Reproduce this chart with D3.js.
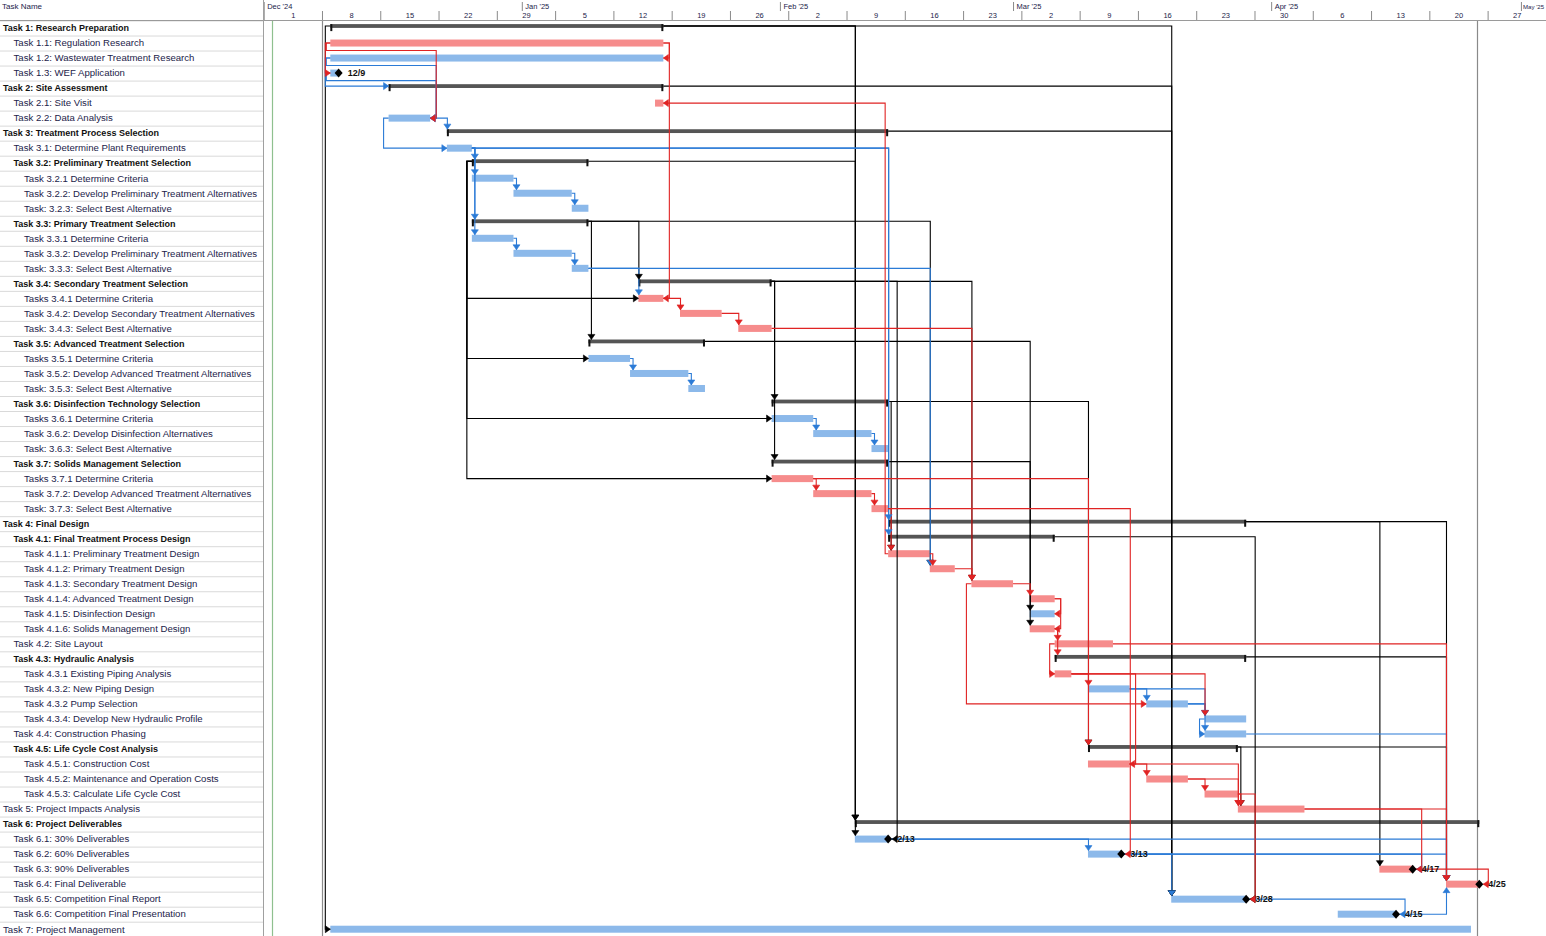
<!DOCTYPE html>
<html><head><meta charset="utf-8">
<script src="https://cdn.jsdelivr.net/npm/d3@7"></script>
<style>body{margin:0;background:#fff;overflow:hidden}svg{display:block;font-family:"Liberation Sans",Arial,sans-serif}</style>
</head><body><svg id="c" width="1546" height="936"></svg>
<script>
const taskNames = [
"Task 1: Research Preparation","Task 1.1: Regulation Research","Task 1.2: Wastewater Treatment Research","Task 1.3: WEF Application",
"Task 2: Site Assessment","Task 2.1: Site Visit","Task 2.2: Data Analysis",
"Task 3: Treatment Process Selection","Task 3.1: Determine Plant Requirements",
"Task 3.2: Preliminary Treatment Selection","Task 3.2.1 Determine Criteria","Task 3.2.2: Develop Preliminary Treatment Alternatives","Task: 3.2.3: Select Best Alternative",
"Task 3.3: Primary Treatment Selection","Task 3.3.1 Determine Criteria","Task 3.3.2: Develop Preliminary Treatment Alternatives","Task: 3.3.3: Select Best Alternative",
"Task 3.4: Secondary Treatment Selection","Tasks 3.4.1 Determine Criteria","Task 3.4.2: Develop Secondary Treatment Alternatives","Task: 3.4.3: Select Best Alternative",
"Task 3.5: Advanced Treatment Selection","Tasks 3.5.1 Determine Criteria","Task 3.5.2: Develop Advanced Treatment Alternatives","Task: 3.5.3: Select Best Alternative",
"Task 3.6: Disinfection Technology Selection","Tasks 3.6.1 Determine Criteria","Task 3.6.2: Develop Disinfection Alternatives","Task: 3.6.3: Select Best Alternative",
"Task 3.7: Solids Management Selection","Tasks 3.7.1 Determine Criteria","Task 3.7.2: Develop Advanced Treatment Alternatives","Task: 3.7.3: Select Best Alternative",
"Task 4: Final Design","Task 4.1: Final Treatment Process Design","Task 4.1.1: Preliminary Treatment Design","Task 4.1.2: Primary Treatment Design",
"Task 4.1.3: Secondary Treatment Design","Task 4.1.4: Advanced Treatment Design","Task 4.1.5: Disinfection Design","Task 4.1.6: Solids Management Design",
"Task 4.2: Site Layout","Task 4.3: Hydraulic Analysis","Task 4.3.1 Existing Piping Analysis","Task 4.3.2: New Piping Design","Task 4.3.2 Pump Selection",
"Task 4.3.4: Develop New Hydraulic Profile","Task 4.4: Construction Phasing","Task 4.5: Life Cycle Cost Analysis","Task 4.5.1: Construction Cost",
"Task 4.5.2: Maintenance and Operation Costs","Task 4.5.3: Calculate Life Cycle Cost","Task 5: Project Impacts Analysis","Task 6: Project Deliverables",
"Task 6.1: 30% Deliverables","Task 6.2: 60% Deliverables","Task 6.3: 90% Deliverables","Task 6.4: Final Deliverable",
"Task 6.5: Competition Final Report","Task 6.6: Competition Final Presentation","Task 7: Project Management"];
const taskLevels = [0,1,1,1,0,1,1,0,1,1,2,2,2,1,2,2,2,1,2,2,2,1,2,2,2,1,2,2,2,1,2,2,2,0,1,2,2,2,2,2,2,1,1,2,2,2,2,1,1,2,2,2,0,0,1,1,1,1,1,1,0];
const taskKinds = ["s","t","t","t","s","t","t","s","t","s","t","t","t","s","t","t","t","s","t","t","t","s","t","t","t","s","t","t","t","s","t","t","t","s","s","t","t","t","t","t","t","t","s","t","t","t","t","t","s","t","t","t","t","s","t","t","t","t","t","t","t"];
const taskStarts = ["2024-12-09","2024-12-09","2024-12-09","2024-12-09","2024-12-16","2025-01-17","2024-12-16","2024-12-23","2024-12-23",
"2024-12-26","2024-12-26","2024-12-31","2025-01-07","2024-12-26","2024-12-26","2024-12-31","2025-01-07",
"2025-01-15","2025-01-15","2025-01-20","2025-01-27","2025-01-09","2025-01-09","2025-01-14","2025-01-21",
"2025-01-31","2025-01-31","2025-02-05","2025-02-12","2025-01-31","2025-01-31","2025-02-05","2025-02-12",
"2025-02-14","2025-02-14","2025-02-14","2025-02-19","2025-02-24","2025-03-03","2025-03-03","2025-03-03",
"2025-03-06","2025-03-06","2025-03-06","2025-03-10","2025-03-17","2025-03-24","2025-03-24","2025-03-10","2025-03-10","2025-03-17","2025-03-24",
"2025-03-28","2025-02-10","2025-02-10","2025-03-10","2025-04-14","2025-04-22","2025-03-20","2025-04-09","2024-12-09"];
const taskFinishes = ["2025-01-17","2025-01-17","2025-01-17","2024-12-09","2025-01-17","2025-01-17","2024-12-20","2025-02-13","2024-12-25",
"2025-01-08","2024-12-30","2025-01-06","2025-01-08","2025-01-08","2024-12-30","2025-01-06","2025-01-08",
"2025-01-30","2025-01-17","2025-01-24","2025-01-30","2025-01-22","2025-01-13","2025-01-20","2025-01-22",
"2025-02-13","2025-02-04","2025-02-11","2025-02-13","2025-02-13","2025-02-04","2025-02-11","2025-02-13",
"2025-03-28","2025-03-05","2025-02-18","2025-02-21","2025-02-28","2025-03-05","2025-03-05","2025-03-05",
"2025-03-12","2025-03-28","2025-03-07","2025-03-14","2025-03-21","2025-03-28","2025-03-28","2025-03-27","2025-03-14","2025-03-21","2025-03-27",
"2025-04-04","2025-04-25","2025-02-13","2025-03-13","2025-04-17","2025-04-25","2025-03-28","2025-04-15","2025-04-24"];
const taskCritical = [0,1,0,0,0,1,0,0,0,0,0,0,0,0,0,0,0,0,1,1,1,0,0,0,0,0,0,0,0,0,1,1,1,0,0,1,1,1,1,0,1,1,0,1,0,0,0,0,0,1,1,1,1,0,0,0,1,1,0,0,0];
const milestoneRows = [4,55,56,57,58,59,60];
const milestoneLabels = ["12/9","2/13","3/13","4/17","4/25","3/28","4/15"];
const monthStarts = ["2024-12-01","2025-01-01","2025-02-01","2025-03-01","2025-04-01","2025-05-01"];
const monthLabels = ["Dec '24","Jan '25","Feb '25","Mar '25","Apr '25","May '25"];
const weekStarts = ["2024-12-01","2024-12-08","2024-12-15","2024-12-22","2024-12-29","2025-01-05","2025-01-12","2025-01-19","2025-01-26","2025-02-02","2025-02-09","2025-02-16","2025-02-23","2025-03-02","2025-03-09","2025-03-16","2025-03-23","2025-03-30","2025-04-06","2025-04-13","2025-04-20","2025-04-27"];
const weekLabels = ["1","8","15","22","29","5","12","19","26","2","9","16","23","2","9","16","23","30","6","13","20","27"];
const markerDates = ["2024-12-02","2024-12-08","2025-04-25T17:00"];
// links: [predecessor row, successor row, type, colour]
const links = [
[1,61,"SS","k"],[1,59,"FS","k"],[1,54,"FS","k"],[1,55,"FS","k"],[5,59,"FS","k"],[8,59,"FS","k"],
[10,19,"SS","k"],[10,23,"SS","k"],[10,27,"SS","k"],[10,31,"SS","k"],[10,54,"FS","k"],
[14,18,"FS","k"],[14,22,"FS","k"],[14,37,"FS","k"],[18,26,"FS","k"],[18,30,"FS","k"],[18,38,"FS","k"],[18,55,"FF","k"],
[22,40,"FS","k"],[30,41,"FS","k"],[26,49,"FS","k"],[26,36,"FS","k"],
[34,57,"FS","k"],[34,58,"FS","k"],[35,59,"FF","k"],[43,58,"FS","k"],[49,58,"FS","k"],[49,53,"FS","k"],
[3,5,"SS","b"],[3,7,"SF","b"],[4,7,"SF","b"],[7,8,"FS","b"],[7,9,"SS","b"],
[9,10,"FS","b"],[9,11,"FS","b"],[9,14,"FS","b"],[9,15,"FS","b"],[9,34,"FS","b"],[9,35,"FS","b"],
[11,12,"FS","b"],[12,13,"FS","b"],[15,16,"FS","b"],[16,17,"FS","b"],[17,19,"FS","b"],[17,37,"FS","b"],
[23,24,"FS","b"],[24,25,"FS","b"],[27,28,"FS","b"],[28,29,"FS","b"],
[45,46,"FS","b"],[45,47,"FS","b"],[46,47,"FS","b"],[46,48,"FS","b"],[47,48,"SS","b"],[48,58,"FS","b"],
[55,56,"FS","b"],[55,58,"FS","b"],[56,57,"FF","b"],[56,58,"FS","b"],[56,59,"FS","b"],[59,60,"FF","b"],[60,58,"FS","b"],
[2,3,"FF","r"],[2,4,"SS","r"],[2,7,"SF","r"],[2,19,"FF","r"],[36,6,"SF","r"],
[19,20,"FS","r"],[20,21,"FS","r"],[21,38,"FS","r"],
[31,32,"FS","r"],[32,33,"FS","r"],[31,49,"FS","r"],[33,36,"FS","r"],[33,56,"FF","r"],
[36,37,"FS","r"],[37,38,"FS","r"],[38,39,"FS","r"],[38,46,"SS","r"],[39,40,"FF","r"],[39,41,"FF","r"],[41,42,"FS","r"],[41,43,"FS","r"],
[42,44,"SS","r"],[42,58,"FS","r"],[44,45,"FS","r"],[44,47,"FS","r"],[44,50,"FF","r"],
[50,51,"FS","r"],[51,52,"FS","r"],[50,53,"FS","r"],[51,53,"FS","r"],[52,53,"FS","r"],[52,59,"FF","r"],
[53,57,"FF","r"],[53,58,"FS","r"],[57,58,"FF","r"]];

const TABLE_W = 263.5, ROW0 = 20.5, ROW_H = 15.02, DAY = 8.326, X0 = 263.7;
const colRed = "#f68c8c", colBlue = "#8cb9ea", colSum = "#555555";
const linkCol = {k:"#000000", b:"#2b7bd6", r:"#e02323"};
const parse = s => s.length > 10 ? d3.utcParse("%Y-%m-%dT%H:%M")(s) : d3.utcParse("%Y-%m-%d")(s);
const x = d3.scaleUtc().domain([parse("2024-12-01"), parse("2025-05-01")]).range([X0, X0 + 151*DAY]);
const rowTop = i => ROW0 + i*ROW_H;
const rowMid = i => rowTop(i) + ROW_H/2;
const xs = i => x(parse(taskStarts[i]));
const xe = i => x(d3.utcDay.offset(parse(taskFinishes[i]), 1));
const isSum = i => taskKinds[i] === "s";
const isMs = i => milestoneRows.includes(i+1);
const anchorY = i => isSum(i) ? rowTop(i) + 5.5 : rowMid(i);
const barTop = i => isSum(i) ? rowTop(i) + 3.5 : rowMid(i) - 3.5;
const barBot = i => isSum(i) ? rowTop(i) + 7.5 : rowMid(i) + 3.5;

const svg = d3.select("#c");

// ----- table -----
const gT = svg.append("g");
gT.selectAll("line").data(d3.range(taskNames.length + 1)).join("line")
  .attr("x1", 0).attr("x2", TABLE_W).attr("y1", i => rowTop(i)+0.5).attr("y2", i => rowTop(i)+0.5)
  .attr("stroke", "#d9d9d9");
gT.selectAll("text").data(taskNames).join("text")
  .attr("x", (d,i) => 3 + taskLevels[i]*10.5).attr("y", (d,i) => rowMid(i) + 3.3)
  .attr("font-size", (d,i) => isSum(i) ? 9 : 9.6).attr("font-weight", (d,i) => isSum(i) ? "bold" : "normal")
  .attr("fill", (d,i) => isSum(i) ? "#111" : "#23234a").text(d => d);
svg.append("text").attr("x", 2).attr("y", 8.5).attr("font-size", 8).attr("fill", "#23234a").text("Task Name");

// ----- special vertical lines -----
const vl = svg.append("g");
vl.selectAll("line").data(markerDates).join("line")
  .attr("x1", d => Math.round(x(parse(d)))+0.5).attr("x2", d => Math.round(x(parse(d)))+0.5)
  .attr("y1", 20).attr("y2", 936)
  .attr("stroke", (d,i) => i === 0 ? "#8fc08f" : "#8a8a8a").attr("stroke-width", 1.2);

// ----- timescale -----
const gM = svg.append("g").attr("transform", "translate(0,11)");
gM.call(d3.axisTop(x).tickValues(monthStarts.map(parse)).tickSize(9).tickSizeOuter(0)
  .tickFormat((d,i) => monthLabels[i]));
gM.select(".domain").remove();
gM.selectAll(".tick line").attr("stroke", "#8a8a8a");
const lastM = monthLabels.length - 1;
gM.selectAll(".tick text").attr("x", (d,i) => i === lastM ? 1.5 : 3).attr("y", -2.5).attr("text-anchor", "start")
  .attr("font-size", (d,i) => i === lastM ? 6.1 : 7.5)
  .attr("fill", "#23234a").attr("font-family", "Liberation Sans, Arial, sans-serif");
const gW = svg.append("g").attr("transform", "translate(0,20)");
gW.call(d3.axisTop(x).tickValues(weekStarts.map(parse)).tickSize(9).tickSizeOuter(0)
  .tickFormat((d,i) => weekLabels[i]));
gW.select(".domain").remove();
gW.selectAll(".tick line").attr("stroke", "#8a8a8a");
gW.selectAll(".tick text").attr("x", 3.5*DAY).attr("y", -2).attr("text-anchor", "middle")
  .attr("font-size", 7.5).attr("fill", "#23234a").attr("font-family", "Liberation Sans, Arial, sans-serif");
svg.append("line").attr("x1", 0).attr("x2", 1546).attr("y1", 20.5).attr("y2", 20.5).attr("stroke", "#9a9a9a");
svg.append("line").attr("x1", TABLE_W).attr("x2", TABLE_W).attr("y1", 0).attr("y2", 936).attr("stroke", "#a0a0a0");

// ----- bars -----
const idx = d3.range(taskNames.length);
const gB = svg.append("g");
gB.selectAll("rect.task").data(idx.filter(i => !isSum(i))).join("rect").attr("class", "task")
  .attr("x", i => xs(i)).attr("width", i => Math.max(1, xe(i) - xs(i)))
  .attr("y", i => rowMid(i) - 3.5).attr("height", 7)
  .attr("fill", i => taskCritical[i] ? colRed : colBlue);
gB.selectAll("rect.sum").data(idx.filter(isSum)).join("rect").attr("class", "sum")
  .attr("x", i => xs(i)).attr("width", i => xe(i) - xs(i))
  .attr("y", i => rowTop(i) + 3.6).attr("height", 3.8).attr("fill", colSum);
gB.selectAll("rect.capS").data(idx.filter(isSum)).join("rect").attr("class", "capS")
  .attr("x", i => xs(i)).attr("width", 2).attr("y", i => rowTop(i) + 3.6).attr("height", 7).attr("fill", "#111");
gB.selectAll("rect.capE").data(idx.filter(isSum)).join("rect").attr("class", "capE")
  .attr("x", i => xe(i) - 2).attr("width", 2).attr("y", i => rowTop(i) + 3.6).attr("height", 7).attr("fill", "#111");

// ----- links -----
function geom(l) {
  const P = l[0]-1, S = l[1]-1, t = l[2];
  const y1 = anchorY(P), y2 = anchorY(S);
  const ms = isMs(S) ? 4 : 0;
  let pts, ar;
  if (t === "FS") {
    const x1 = xe(P), x2 = xs(S);
    if (x2 >= x1 - 0.5) {
      const xv = Math.max(x1 + 3, x2 + 0.5);
      const ty = S > P ? barTop(S) : barBot(S);
      pts = [[x1,y1],[xv,y1],[xv,ty]]; ar = {x:xv, y:ty, d:S > P ? "down" : "up"};
    } else {
      const yb = S > P ? rowTop(P+1) : rowTop(P);
      pts = [[x1,y1],[x1+5,y1],[x1+5,yb],[x2-5,yb],[x2-5,y2],[x2,y2]]; ar = {x:x2, y:y2, d:"right"};
    }
  } else if (t === "SS") {
    const x1 = xs(P), x2 = xs(S), xv = Math.min(x1, x2) - 5;
    pts = [[x1,y1],[xv,y1],[xv,y2],[x2,y2]]; ar = {x:x2, y:y2, d:"right"};
  } else if (t === "FF") {
    const x1 = xe(P), x2 = xe(S) + ms, xv = Math.max(xe(P), xe(S)) + 6 + (ms ? 3 : 0);
    pts = [[x1,y1],[xv,y1],[xv,y2],[x2,y2]]; ar = {x:x2, y:y2, d:"left"};
  } else {
    const x1 = xs(P), x2 = xe(S) + ms;
    if (x2 + 6 <= x1 - 3) {
      pts = [[x1,y1],[x1-3,y1],[x1-3,y2],[x2,y2]];
    } else {
      const yb = S > P ? rowTop(P+1) : rowTop(P);
      pts = [[x1,y1],[x1-4,y1],[x1-4,yb],[x2+6,yb],[x2+6,y2],[x2,y2]];
    }
    ar = {x:x2, y:y2, d:"left"};
  }
  return {pts, ar, c:linkCol[l[3]]};
}
const arrowPts = a => {
  const {x:ax, y:ay, d} = a;
  if (d === "down") return [[ax-3.5,ay-5],[ax+3.5,ay-5],[ax,ay]];
  if (d === "up") return [[ax-3.5,ay+5],[ax+3.5,ay+5],[ax,ay]];
  if (d === "left") return [[ax+5,ay-3.5],[ax+5,ay+3.5],[ax,ay]];
  return [[ax-5,ay-3.5],[ax-5,ay+3.5],[ax,ay]];
};
const G = links.map(geom);
const order = ["#000000","#2b7bd6","#e02323"];
G.sort((a,b) => order.indexOf(a.c) - order.indexOf(b.c));
const gL = svg.append("g");
const line = d3.line();
gL.selectAll("path.lk").data(G).join("path").attr("class", "lk")
  .attr("d", g => line(g.pts)).attr("fill", "none").attr("stroke", g => g.c).attr("stroke-width", 1.1);
gL.selectAll("path.ar").data(G).join("path").attr("class", "ar")
  .attr("d", g => line(arrowPts(g.ar)) + "Z").attr("fill", g => g.c).attr("stroke", g => g.c).attr("stroke-width", 0.6);

// ----- milestones -----
const gMs = svg.append("g");
gMs.selectAll("path").data(milestoneRows).join("path")
  .attr("d", r => { const i = r-1, cx = xe(i), cy = rowMid(i); return `M${cx-4},${cy}L${cx},${cy-4.5}L${cx+4},${cy}L${cx},${cy+4.5}Z`; })
  .attr("fill", "#000");
gMs.selectAll("text").data(milestoneRows).join("text")
  .attr("x", r => xe(r-1) + 9).attr("y", r => rowMid(r-1) + 3.2)
  .attr("font-size", 9).attr("font-weight", "bold").attr("fill", "#111")
  .text((r,k) => milestoneLabels[k]);
</script></body></html>
